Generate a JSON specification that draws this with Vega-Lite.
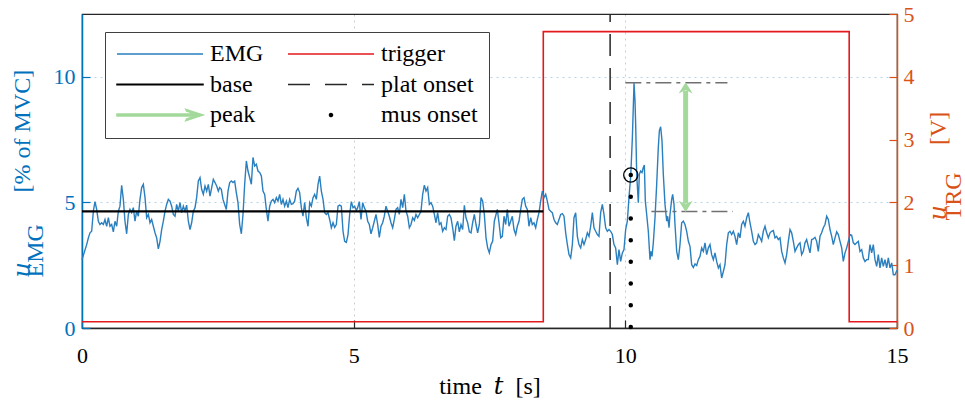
{
"$schema": "https://vega.github.io/schema/vega-lite/v6.json",
"width": 815, "height": 314,
"autosize": {"type": "none"},
"padding": {"left": 82, "top": 14, "right": 68, "bottom": 73},
"background": "white",
"config": {
  "font": "Liberation Serif",
  "view": {"stroke": "#262626", "strokeWidth": 1.2},
  "axis": {"labelFont": "Liberation Serif", "titleFont": "Liberation Serif, DejaVu Serif", "labelFontSize": 22, "titleFontSize": 24, "titleFontWeight": "normal", "tickSize": -8, "tickWidth": 1.2, "domainWidth": 1.5, "labelFlush": false, "labelOverlap": false}
},
"datasets": {
  "emg": [
{"t":0,"v":2.72},{"t":0.086,"v":3.32},{"t":0.117,"v":3.59},{"t":0.147,"v":3.79},{"t":0.178,"v":3.85},{"t":0.209,"v":4.65},{"t":0.239,"v":5.03},{"t":0.27,"v":4.72},{"t":0.301,"v":4.25},{"t":0.331,"v":4.12},{"t":0.362,"v":4.19},{"t":0.393,"v":4.12},{"t":0.423,"v":4.32},{"t":0.454,"v":4.05},{"t":0.485,"v":4.39},{"t":0.515,"v":4.05},{"t":0.546,"v":4.12},{"t":0.577,"v":3.83},{"t":0.607,"v":4.25},{"t":0.638,"v":4.05},{"t":0.669,"v":4.65},{"t":0.699,"v":4.85},{"t":0.73,"v":5.68},{"t":0.761,"v":5.12},{"t":0.791,"v":4.25},{"t":0.822,"v":3.75},{"t":0.853,"v":4.52},{"t":0.883,"v":4.72},{"t":0.914,"v":4.59},{"t":0.945,"v":4.79},{"t":0.975,"v":4.25},{"t":1.006,"v":4.65},{"t":1.037,"v":4.45},{"t":1.067,"v":5.12},{"t":1.098,"v":5.59},{"t":1.129,"v":5.72},{"t":1.16,"v":5.19},{"t":1.19,"v":4.39},{"t":1.221,"v":4.52},{"t":1.252,"v":4.19},{"t":1.282,"v":4.32},{"t":1.313,"v":4.05},{"t":1.344,"v":3.79},{"t":1.374,"v":3.59},{"t":1.405,"v":3.15},{"t":1.436,"v":3.45},{"t":1.466,"v":3.92},{"t":1.497,"v":4.25},{"t":1.528,"v":4.65},{"t":1.558,"v":4.92},{"t":1.589,"v":5.12},{"t":1.62,"v":5.05},{"t":1.65,"v":4.85},{"t":1.681,"v":4.52},{"t":1.712,"v":4.45},{"t":1.742,"v":4.92},{"t":1.773,"v":4.65},{"t":1.804,"v":4.99},{"t":1.834,"v":4.59},{"t":1.865,"v":4.85},{"t":1.896,"v":4.65},{"t":1.926,"v":4.89},{"t":1.957,"v":4.25},{"t":1.988,"v":3.92},{"t":2.018,"v":4.19},{"t":2.049,"v":4.65},{"t":2.08,"v":4.79},{"t":2.11,"v":5.19},{"t":2.141,"v":5.85},{"t":2.172,"v":5.99},{"t":2.202,"v":5.52},{"t":2.233,"v":5.32},{"t":2.264,"v":5.65},{"t":2.294,"v":5.45},{"t":2.325,"v":5.72},{"t":2.356,"v":5.25},{"t":2.387,"v":5.59},{"t":2.417,"v":5.92},{"t":2.448,"v":5.79},{"t":2.479,"v":5.65},{"t":2.509,"v":5.45},
{"t":2.534,"v":5.59},{"t":2.564,"v":5.52},{"t":2.595,"v":5.12},{"t":2.626,"v":4.92},{"t":2.656,"v":4.72},{"t":2.687,"v":5.45},{"t":2.718,"v":5.79},{"t":2.748,"v":5.85},{"t":2.779,"v":5.79},{"t":2.81,"v":5.85},{"t":2.84,"v":5.39},{"t":2.871,"v":4.99},{"t":2.902,"v":4.12},{"t":2.933,"v":3.75},{"t":2.963,"v":4.52},{"t":2.994,"v":5.72},{"t":3.025,"v":6.65},{"t":3.055,"v":6.25},{"t":3.086,"v":5.99},{"t":3.117,"v":5.72},{"t":3.147,"v":6.79},{"t":3.178,"v":6.45},{"t":3.209,"v":6.52},{"t":3.239,"v":6.25},{"t":3.27,"v":6.19},{"t":3.301,"v":6.05},{"t":3.331,"v":5.45},{"t":3.362,"v":5.32},{"t":3.393,"v":4.72},{"t":3.423,"v":4.25},{"t":3.454,"v":4.85},{"t":3.485,"v":5.05},{"t":3.515,"v":5.12},{"t":3.546,"v":4.99},{"t":3.577,"v":5.19},{"t":3.607,"v":5.05},{"t":3.638,"v":5.32},{"t":3.669,"v":4.92},{"t":3.699,"v":5.12},{"t":3.73,"v":4.85},{"t":3.761,"v":5.05},{"t":3.791,"v":4.79},{"t":3.822,"v":5.12},{"t":3.853,"v":4.92},{"t":3.883,"v":4.95},{"t":3.914,"v":5.05},{"t":3.945,"v":5.45},{"t":3.975,"v":5.56},{"t":4.006,"v":5.39},{"t":4.037,"v":4.79},{"t":4.067,"v":4.45},{"t":4.098,"v":4.99},{"t":4.129,"v":4.39},{"t":4.16,"v":4.05},{"t":4.19,"v":4.99},{"t":4.221,"v":4.85},{"t":4.252,"v":5.19},{"t":4.282,"v":5.32},{"t":4.313,"v":5.12},{"t":4.344,"v":5.72},{"t":4.374,"v":6.05},{"t":4.405,"v":5.45},{"t":4.436,"v":5.12},{"t":4.466,"v":4.59},{"t":4.497,"v":4.52},{"t":4.528,"v":4.59},{"t":4.558,"v":4.32},{"t":4.589,"v":3.99},{"t":4.62,"v":4.19},{"t":4.65,"v":4.01},{"t":4.681,"v":4.12},{"t":4.712,"v":4.85},{"t":4.742,"v":4.89},{"t":4.773,"v":4.85},{"t":4.804,"v":3.85},{"t":4.834,"v":3.45},{"t":4.865,"v":3.41},{"t":4.896,"v":3.72},{"t":4.926,"v":4.52},{"t":4.957,"v":5.03},{"t":4.988,"v":4.79},{"t":5.018,"v":4.85},{"t":5.049,"v":4.68},
{"t":5.074,"v":4.79},{"t":5.104,"v":5.03},{"t":5.135,"v":4.32},{"t":5.166,"v":4.99},{"t":5.196,"v":4.79},{"t":5.227,"v":4.65},{"t":5.258,"v":4.25},{"t":5.288,"v":4.12},{"t":5.319,"v":3.75},{"t":5.35,"v":3.99},{"t":5.38,"v":4.25},{"t":5.411,"v":4.52},{"t":5.442,"v":4.12},{"t":5.472,"v":3.61},{"t":5.503,"v":4.05},{"t":5.534,"v":4.19},{"t":5.564,"v":4.45},{"t":5.595,"v":4.85},{"t":5.626,"v":4.65},{"t":5.656,"v":4.45},{"t":5.687,"v":4.19},{"t":5.718,"v":3.99},{"t":5.748,"v":4.32},{"t":5.779,"v":4.72},{"t":5.81,"v":4.79},{"t":5.84,"v":4.52},{"t":5.871,"v":5.12},{"t":5.902,"v":4.79},{"t":5.933,"v":5.32},{"t":5.963,"v":4.65},{"t":5.994,"v":4.45},{"t":6.025,"v":3.99},{"t":6.055,"v":4.12},{"t":6.086,"v":4.39},{"t":6.117,"v":4.28},{"t":6.147,"v":4.52},{"t":6.178,"v":4.39},{"t":6.209,"v":4.52},{"t":6.239,"v":4.65},{"t":6.27,"v":5.32},{"t":6.301,"v":5.69},{"t":6.331,"v":5.45},{"t":6.362,"v":5.59},{"t":6.393,"v":4.92},{"t":6.423,"v":4.99},{"t":6.454,"v":4.85},{"t":6.485,"v":4.52},{"t":6.515,"v":4.19},{"t":6.546,"v":4.59},{"t":6.577,"v":4.12},{"t":6.607,"v":4.19},{"t":6.638,"v":3.85},{"t":6.669,"v":3.99},{"t":6.699,"v":3.92},{"t":6.73,"v":4.45},{"t":6.761,"v":4.52},{"t":6.791,"v":4.39},{"t":6.822,"v":3.99},{"t":6.853,"v":3.48},{"t":6.883,"v":4.05},{"t":6.914,"v":4.25},{"t":6.945,"v":3.83},{"t":6.975,"v":4.12},{"t":7.006,"v":3.92},{"t":7.037,"v":4.88},{"t":7.067,"v":4.39},{"t":7.098,"v":4.19},{"t":7.129,"v":3.83},{"t":7.16,"v":3.79},{"t":7.19,"v":4.19},{"t":7.221,"v":4.52},{"t":7.252,"v":4.12},{"t":7.282,"v":3.79},{"t":7.313,"v":4.12},{"t":7.344,"v":5.19},{"t":7.374,"v":5.05},{"t":7.405,"v":4.52},{"t":7.436,"v":3.59},{"t":7.466,"v":3.19},{"t":7.497,"v":2.99},{"t":7.528,"v":3.32},{"t":7.558,"v":3.45},{"t":7.589,"v":4.25},
{"t":7.644,"v":4.72},{"t":7.675,"v":4.19},{"t":7.706,"v":3.59},{"t":7.736,"v":3.65},{"t":7.767,"v":4.45},{"t":7.798,"v":4.12},{"t":7.828,"v":4.72},{"t":7.859,"v":4.05},{"t":7.89,"v":4.25},{"t":7.92,"v":4.45},{"t":7.951,"v":3.92},{"t":7.982,"v":3.72},{"t":8.012,"v":4.05},{"t":8.043,"v":4.25},{"t":8.074,"v":4.72},{"t":8.104,"v":5.12},{"t":8.135,"v":5.19},{"t":8.166,"v":4.85},{"t":8.196,"v":4.72},{"t":8.227,"v":4.05},{"t":8.258,"v":4.39},{"t":8.288,"v":4.12},{"t":8.319,"v":4.19},{"t":8.35,"v":3.99},{"t":8.38,"v":4.32},{"t":8.411,"v":4.59},{"t":8.442,"v":5.05},{"t":8.472,"v":5.45},{"t":8.503,"v":5.19},{"t":8.534,"v":5.32},{"t":8.564,"v":5.05},{"t":8.595,"v":4.72},{"t":8.626,"v":4.65},{"t":8.656,"v":4.59},{"t":8.687,"v":4.32},{"t":8.718,"v":4.19},{"t":8.748,"v":4.12},{"t":8.779,"v":4.32},{"t":8.81,"v":4.52},{"t":8.84,"v":4.55},{"t":8.871,"v":4.45},{"t":8.902,"v":3.79},{"t":8.933,"v":3.32},{"t":8.963,"v":2.92},{"t":8.994,"v":2.79},{"t":9.025,"v":3.32},{"t":9.055,"v":4.39},{"t":9.086,"v":4.59},{"t":9.117,"v":3.65},{"t":9.147,"v":3.32},{"t":9.178,"v":3.19},{"t":9.209,"v":3.52},{"t":9.239,"v":3.32},{"t":9.27,"v":3.52},{"t":9.301,"v":3.79},{"t":9.331,"v":3.65},{"t":9.362,"v":4.05},{"t":9.393,"v":4.59},{"t":9.423,"v":3.99},{"t":9.454,"v":3.85},{"t":9.485,"v":3.72},{"t":9.515,"v":3.65},{"t":9.546,"v":4.59},{"t":9.577,"v":4.92},{"t":9.607,"v":4.52},{"t":9.638,"v":3.99},{"t":9.669,"v":3.85},{"t":9.699,"v":3.92},{"t":9.73,"v":3.85},{"t":9.761,"v":3.72},{"t":9.791,"v":3.32},{"t":9.822,"v":3.19},{"t":9.853,"v":2.52},{"t":9.883,"v":3.12},{"t":9.914,"v":2.65},{"t":9.945,"v":2.99},{"t":9.975,"v":3.12},{"t":10.006,"v":3.92},{"t":10.037,"v":4.25},{"t":10.067,"v":5.19},{"t":10.1,"v":6.09},{"t":10.13,"v":7.6},{"t":10.16,"v":9.75},
{"t":10.178,"v":9.05},{"t":10.19,"v":8.12},{"t":10.209,"v":6.12},{"t":10.239,"v":4.99},{"t":10.258,"v":6.12},{"t":10.282,"v":6.25},{"t":10.307,"v":6.19},{"t":10.331,"v":6.39},{"t":10.35,"v":6.49},{"t":10.368,"v":5.05},{"t":10.393,"v":4.52},{"t":10.423,"v":3.85},{"t":10.454,"v":2.72},{"t":10.472,"v":3.05},{"t":10.491,"v":2.85},{"t":10.515,"v":3.39},{"t":10.546,"v":4.39},{"t":10.577,"v":5.72},{"t":10.607,"v":7.19},{"t":10.626,"v":7.85},{"t":10.65,"v":8.01},{"t":10.675,"v":7.45},{"t":10.699,"v":6.12},{"t":10.73,"v":4.92},{"t":10.761,"v":4.25},{"t":10.779,"v":4.45},{"t":10.804,"v":3.99},{"t":10.822,"v":4.52},{"t":10.853,"v":5.12},{"t":10.871,"v":5.32},{"t":10.896,"v":4.92},{"t":10.914,"v":4.12},{"t":10.945,"v":3.05},{"t":10.975,"v":2.72},{"t":11.006,"v":3.32},{"t":11.037,"v":4.19},{"t":11.067,"v":4.25},{"t":11.098,"v":4.12},{"t":11.129,"v":3.85},{"t":11.16,"v":3.45},{"t":11.19,"v":3.25},{"t":11.221,"v":2.52},{"t":11.252,"v":2.41},{"t":11.282,"v":2.55},{"t":11.313,"v":2.49},{"t":11.344,"v":2.72},{"t":11.374,"v":2.85},{"t":11.405,"v":3.19},{"t":11.436,"v":3.05},{"t":11.466,"v":3.39},{"t":11.497,"v":2.92},{"t":11.528,"v":3.19},{"t":11.558,"v":3.32},{"t":11.589,"v":2.92},{"t":11.62,"v":2.72},{"t":11.65,"v":2.99},{"t":11.681,"v":2.65},{"t":11.712,"v":2.39},{"t":11.742,"v":2.52},{"t":11.773,"v":1.99},{"t":11.804,"v":2.25},{"t":11.834,"v":2.52},{"t":11.865,"v":3.32},{"t":11.896,"v":3.79},{"t":11.926,"v":3.85},{"t":11.957,"v":3.72},{"t":11.988,"v":3.85},{"t":12.018,"v":3.65},{"t":12.049,"v":3.32},{"t":12.08,"v":3.79},{"t":12.11,"v":3.59},{"t":12.141,"v":4.12},{"t":12.172,"v":4.25},{"t":12.202,"v":4.05},{"t":12.233,"v":4.39},{"t":12.264,"v":4.59},{"t":12.294,"v":4.19},{"t":12.325,"v":3.85},{"t":12.356,"v":3.45},{"t":12.387,"v":3.32},{"t":12.417,"v":3.39},{"t":12.448,"v":3.72},{"t":12.479,"v":3.59},{"t":12.509,"v":3.45},{"t":12.54,"v":3.85},{"t":12.571,"v":4.05},{"t":12.601,"v":3.79},{"t":12.632,"v":3.59},
{"t":12.663,"v":3.79},{"t":12.693,"v":3.85},{"t":12.724,"v":3.88},{"t":12.755,"v":3.59},{"t":12.785,"v":3.65},{"t":12.816,"v":3.52},{"t":12.847,"v":3.59},{"t":12.877,"v":3.05},{"t":12.908,"v":2.79},{"t":12.939,"v":2.59},{"t":12.969,"v":2.92},{"t":13.0,"v":3.45},{"t":13.031,"v":3.92},{"t":13.061,"v":3.79},{"t":13.092,"v":3.45},{"t":13.123,"v":3.05},{"t":13.153,"v":3.19},{"t":13.184,"v":3.32},{"t":13.215,"v":3.39},{"t":13.245,"v":2.92},{"t":13.276,"v":3.05},{"t":13.307,"v":3.39},{"t":13.337,"v":3.52},{"t":13.368,"v":3.25},{"t":13.399,"v":2.99},{"t":13.429,"v":3.52},{"t":13.46,"v":3.55},{"t":13.491,"v":3.61},{"t":13.521,"v":3.45},{"t":13.552,"v":3.05},{"t":13.583,"v":3.65},{"t":13.613,"v":3.79},{"t":13.644,"v":3.99},{"t":13.675,"v":4.12},{"t":13.706,"v":4.45},{"t":13.736,"v":4.32},{"t":13.767,"v":3.92},{"t":13.798,"v":3.65},{"t":13.828,"v":3.32},{"t":13.859,"v":3.59},{"t":13.89,"v":3.83},{"t":13.92,"v":3.72},{"t":13.951,"v":3.45},{"t":13.982,"v":3.19},{"t":14.012,"v":2.65},{"t":14.043,"v":2.99},{"t":14.074,"v":3.19},{"t":14.104,"v":3.45},{"t":14.135,"v":3.72},{"t":14.166,"v":3.69},{"t":14.196,"v":3.39},{"t":14.227,"v":3.32},{"t":14.258,"v":3.39},{"t":14.288,"v":3.45},{"t":14.319,"v":3.05},{"t":14.35,"v":3.12},{"t":14.38,"v":2.79},{"t":14.411,"v":2.65},{"t":14.442,"v":2.72},{"t":14.472,"v":2.72},{"t":14.503,"v":3.32},{"t":14.534,"v":2.99},{"t":14.564,"v":3.32},{"t":14.595,"v":2.72},{"t":14.626,"v":2.45},{"t":14.656,"v":2.92},{"t":14.687,"v":2.39},{"t":14.718,"v":2.79},{"t":14.748,"v":2.45},{"t":14.779,"v":2.72},{"t":14.81,"v":2.39},{"t":14.84,"v":2.79},{"t":14.871,"v":2.39},{"t":14.902,"v":2.59},{"t":14.933,"v":2.12},{"t":14.963,"v":2.12},{"t":15.0,"v":2.3}
  ],
  "trig": [{"t":0,"v":0.1},{"t":8.49,"v":0.1},{"t":8.49,"v":4.72},{"t":14.12,"v":4.72},{"t":14.12,"v":0.1},{"t":15,"v":0.1}],
  "base": [{"t":0,"v":4.64},{"t":8.49,"v":4.64}],
  "peaklines": [{"t":10.0,"t2":11.88,"v":9.76},{"t":10.48,"t2":11.98,"v":4.64}],
  "shaft": [{"t":11.11,"v":9.45,"v2":4.95}],
  "heads": [{"t":11.11,"v":9.78,"dir":"up"},{"t":11.11,"v":4.62,"dir":"down"}],
  "plat": [{"t":9.72,"v":0,"v2":12.5}],
  "mus": [{"t":10.1,"v":6.09,"v2":0}]
},
"layer": [
  {
    "data": {"name": "trig"},
    "mark": {"type": "line", "strokeWidth": 1.6, "interpolate": "linear"},
    "encoding": {
      "x": {"field": "t", "type": "quantitative", "scale": {"domain": [0, 15], "nice": false},
        "axis": {"values": [0, 5, 10, 15], "grid": true, "gridColor": "#000", "gridOpacity": 0.2, "gridDash": [2, 4], "domainColor": "#262626", "tickColor": "#262626", "labelColor": "#000", "labelPadding": 25, "title": "time\u2002𝑡\u2002[s]", "titleColor": "#000", "titlePadding": 8}},
      "y": {"field": "v", "type": "quantitative", "scale": {"domain": [0, 5], "nice": false},
        "axis": {"orient": "right", "values": [0, 1, 2, 3, 4, 5], "grid": false, "domainColor": "#D95319", "tickColor": "#D95319", "labelColor": "#D95319", "labelPadding": 14, "titleColor": "#D95319",
          "title": ["𝑢\u2003\u2003\u2002[V]", "\u2002\u2009TRG"], "titleAngle": 270, "titleAlign": "left", "titleBaseline": "top", "titleX": 29, "titleY": 206, "titleLineHeight": 15}},
      "color": {"datum": "trigger", "type": "nominal",
        "scale": {"domain": ["EMG", "base", "peak", "trigger", "plat onset", "mus onset"], "range": ["#2a7fbf", "#000000", "#a3d99b", "#e3191c", "#262626", "#000000"]},
        "legend": {"title": null, "orient": "none", "legendX": 23, "legendY": 18, "columns": 2, "columnPadding": 23, "rowPadding": 6.5,
          "symbolType": "stroke", "symbolSize": 7400, "symbolStrokeWidth": 1.5, "clipHeight": 22,
          "labelFont": "Liberation Serif", "labelFontSize": 24, "labelOffset": 6, "labelColor": "#000", "labelLimit": 300,
          "padding": 11, "strokeColor": "#404040", "fillColor": "white",
          "encode": {"symbols": {"update": {
            "shape": {"signal": "datum.value === 'peak' ? 'M-1,-0.022L0.9,-0.022L0.9,0.022L-1,0.022ZM0.6,-0.13L1,0L0.6,0.13L0.62,0.09L0.9,0L0.62,-0.09Z' : datum.value === 'mus onset' ? 'M-0.035,0A0.035,0.035 0 1,0 0.035,0A0.035,0.035 0 1,0 -0.035,0Z' : datum.value === 'base' ? 'M-1,-0.006L1,-0.006L1,0.006L-1,0.006Z' : 'stroke'"},
            "fill": {"signal": "datum.value === 'mus onset' || datum.value === 'peak' || datum.value === 'base' ? scale('color', datum.value) : 'transparent'"},
            "strokeDash": {"signal": "datum.value === 'plat onset' ? [22, 15] : [1, 0]"}
          }}}}},
      "order": {"value": null}
    }
  },
  {
    "encoding": {
      "x": {"field": "t", "type": "quantitative"}
    },
    "layer": [
      {
        "data": {"name": "emg"},
        "mark": {"type": "line", "strokeWidth": 1.4},
        "encoding": {
          "y": {"field": "v", "type": "quantitative", "scale": {"domain": [0, 12.5], "nice": false},
            "axis": {"orient": "left", "values": [0, 5, 10], "grid": true, "gridColor": "#0072BD", "gridOpacity": 0.3, "gridDash": [2, 4], "domainColor": "#0072BD", "tickColor": "#0072BD", "labelColor": "#0072BD", "labelPadding": 15, "titleColor": "#0072BD",
              "title": ["𝑢\u2003\u2003\u2002\u2009\u2009[% of MVC]", "\u2009EMG"], "titleAngle": 270, "titleAlign": "left", "titleBaseline": "top", "titleX": -72, "titleY": 263, "titleLineHeight": 13}},
          "color": {"datum": "EMG", "type": "nominal", "scale": {"domain": ["EMG", "base", "peak", "trigger", "plat onset", "mus onset"], "range": ["#2a7fbf", "#000000", "#a3d99b", "#e3191c", "#262626", "#000000"]}},
          "order": {"value": null}
        }
      },
      {
        "data": {"name": "base"},
        "mark": {"type": "line", "strokeWidth": 2.2},
        "encoding": {
          "y": {"field": "v", "type": "quantitative"},
          "color": {"datum": "base", "type": "nominal", "scale": {"domain": ["EMG", "base", "peak", "trigger", "plat onset", "mus onset"], "range": ["#2a7fbf", "#000000", "#a3d99b", "#e3191c", "#262626", "#000000"]}}
        }
      },
      {
        "data": {"name": "peaklines"},
        "mark": {"type": "rule", "color": "#707070", "strokeWidth": 1.5, "strokeDash": [16, 5, 4, 5]},
        "encoding": {"x2": {"field": "t2"}, "y": {"field": "v", "type": "quantitative"}}
      },
      {
        "data": {"name": "plat"},
        "mark": {"type": "rule", "color": "#262626", "strokeWidth": 1.5, "strokeDash": [22, 12]},
        "encoding": {"y": {"field": "v", "type": "quantitative"}, "y2": {"field": "v2"}}
      },
      {
        "data": {"name": "shaft"},
        "mark": {"type": "rule", "color": "#a3d99b", "strokeWidth": 5},
        "encoding": {"y": {"field": "v", "type": "quantitative"}, "y2": {"field": "v2"}}
      },
      {
        "data": {"name": "heads"},
        "mark": {"type": "point", "filled": true, "color": "#a3d99b", "opacity": 1, "size": 196},
        "encoding": {"y": {"field": "v", "type": "quantitative"},
          "shape": {"field": "dir", "type": "nominal", "scale": {"domain": ["up", "down"], "range": ["M0,0L1,1.6L0,1.1L-1,1.6Z", "M0,0L1,-1.6L0,-1.1L-1,-1.6Z"]}, "legend": null}}
      },
      {
        "data": {"name": "mus"},
        "mark": {"type": "rule", "color": "#000", "strokeWidth": 4.5, "strokeCap": "round", "strokeDash": [0.01, 21.7]},
        "encoding": {"y": {"field": "v", "type": "quantitative"}, "y2": {"field": "v2"}}
      },
      {
        "data": {"name": "mus"},
        "mark": {"type": "point", "shape": "circle", "filled": false, "color": "#000", "strokeWidth": 1.3, "size": 200, "opacity": 1},
        "encoding": {"y": {"field": "v", "type": "quantitative"}}
      }
    ]
  }
],
"resolve": {"scale": {"y": "independent"}}
}
